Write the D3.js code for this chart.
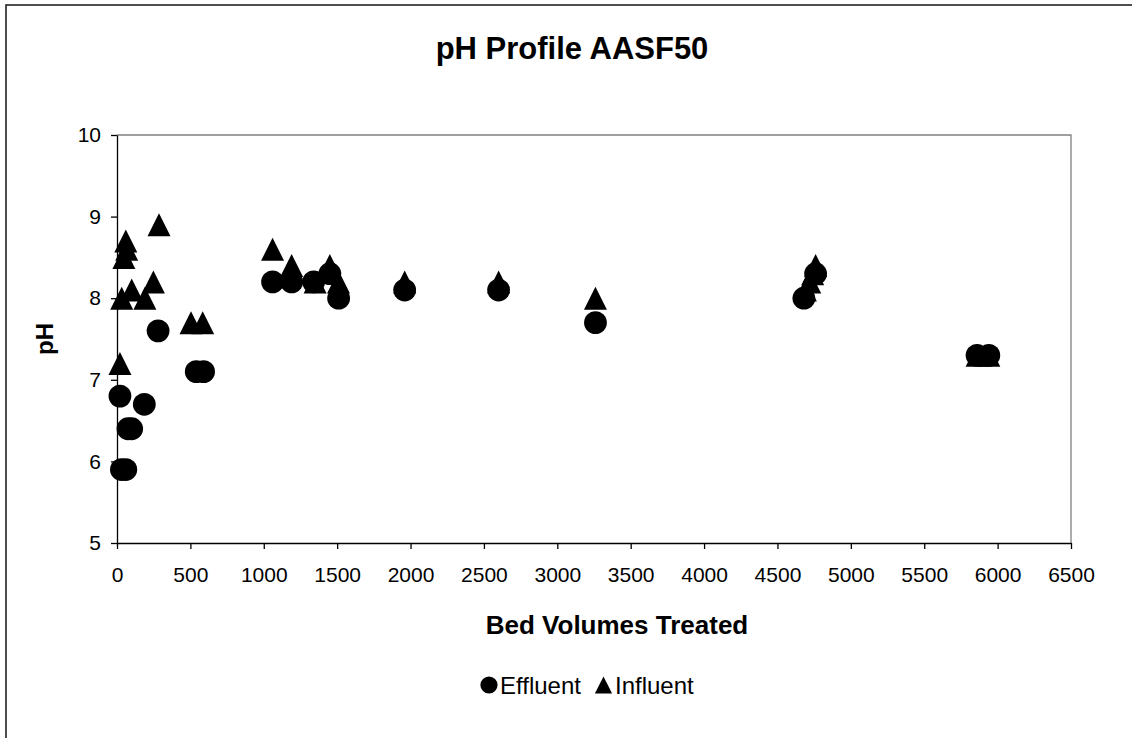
<!DOCTYPE html>
<html>
<head>
<meta charset="utf-8">
<script src="https://cdn.jsdelivr.net/npm/d3@7"></script>
<style>
  body { margin: 0; background: #fff; }
  svg text { font-family: "Liberation Sans", Arial, sans-serif; fill: #000; }
  .axis path, .axis line { stroke: #000; stroke-width: 1.3; }
  .axis text { font-size: 21px; }
</style>
</head>
<body>
<svg id="chart"></svg>
<script>
// Bed volumes and pH
const effluentBV = [30, 60, 20, 75, 100, 186, 280, 540, 590, 1060, 1190, 1340, 1450, 1510, 1960, 2600, 3260, 4680, 4760, 5860, 5940];
const effluentPH = [5.9, 5.9, 6.8, 6.4, 6.4, 6.7, 7.6, 7.1, 7.1, 8.2, 8.2, 8.2, 8.3, 8.0, 8.1, 8.1, 7.7, 8.0, 8.3, 7.3, 7.3];

const influentBV = [20, 32, 47, 60, 66, 100, 190, 248, 286, 504, 584, 1060, 1190, 1350, 1450, 1509, 1960, 2600, 3260, 4690, 4720, 4740, 4760, 5860, 5940];
const influentPH = [7.2, 8.0, 8.5, 8.7, 8.6, 8.1, 8.0, 8.2, 8.9, 7.7, 7.7, 8.6, 8.4, 8.2, 8.4, 8.2, 8.2, 8.2, 8.0, 8.1, 8.2, 8.3, 8.4, 7.3, 7.3];

const xTicks = d3.range(0, 6501, 500);
const yTicks = [5, 6, 7, 8, 9, 10];

const width = 1132, height = 738;
const margin = {top: 135, right: 61, bottom: 195, left: 117};
const innerW = width - margin.left - margin.right;
const innerH = height - margin.top - margin.bottom;

const svg = d3.select('#chart')
    .attr('width', width)
    .attr('height', height);

// outer chart frame (runs off the right and bottom edges)
svg.append('rect')
    .attr('x', 6).attr('y', 5)
    .attr('width', width + 20).attr('height', height + 20)
    .attr('fill', 'none')
    .attr('stroke', '#222')
    .attr('stroke-width', 1.6);

const g = svg.append('g')
    .attr('transform', `translate(${margin.left},${margin.top})`);

const x = d3.scaleLinear().domain([0, 6500]).range([0, innerW]);
const y = d3.scaleLinear().domain([5, 10]).range([innerH, 0]);

// plot area border, grey on top and right
g.append('path')
    .attr('d', `M0,0H${innerW}V${innerH}`)
    .attr('fill', 'none')
    .attr('stroke', '#808080')
    .attr('stroke-width', 1.3);

g.append('g')
    .attr('class', 'axis')
    .attr('transform', `translate(0,${innerH})`)
    .call(d3.axisBottom(x).tickValues(xTicks).tickFormat(d3.format('d'))
        .tickSize(6).tickPadding(18).tickSizeOuter(0));

g.append('g')
    .attr('class', 'axis')
    .call(d3.axisLeft(y).tickValues(yTicks).tickFormat(d3.format('d'))
        .tickSize(6).tickPadding(10).tickSizeOuter(0));

// triangle marker centred in its bounding box, as the spreadsheet draws it
const triangle = s => `M0,${-s}L${s},${s}L${-s},${s}Z`;

g.append('g').selectAll('path')
    .data(influentBV.map((v, i) => [v, influentPH[i]]))
    .join('path')
    .attr('transform', d => `translate(${x(d[0])},${y(d[1])})`)
    .attr('d', triangle(11.5))
    .attr('fill', '#000');

g.append('g').selectAll('circle')
    .data(effluentBV.map((v, i) => [v, effluentPH[i]]))
    .join('circle')
    .attr('cx', d => x(d[0]))
    .attr('cy', d => y(d[1]))
    .attr('r', 11.4)
    .attr('fill', '#000');

// titles
svg.append('text')
    .attr('x', 572).attr('y', 59)
    .attr('text-anchor', 'middle')
    .style('font-size', '31px').style('font-weight', 'bold')
    .text('pH Profile AASF50');

svg.append('text')
    .attr('x', 617).attr('y', 634)
    .attr('text-anchor', 'middle')
    .style('font-size', '26px').style('font-weight', 'bold')
    .text('Bed Volumes Treated');

svg.append('text')
    .attr('transform', 'translate(53,339) rotate(-90)')
    .attr('text-anchor', 'middle')
    .style('font-size', '24px').style('font-weight', 'bold')
    .text('pH');

// legend
const legend = svg.append('g').attr('transform', 'translate(0,685)');
legend.append('circle').attr('cx', 489).attr('cy', 0).attr('r', 8.6).attr('fill', '#000');
legend.append('text').attr('x', 500).attr('y', 8.5).style('font-size', '24px').text('Effluent');
legend.append('path').attr('transform', 'translate(603.5,0)').attr('d', triangle(8.6)).attr('fill', '#000');
legend.append('text').attr('x', 615).attr('y', 8.5).style('font-size', '24px').text('Influent');
</script>
</body>
</html>
